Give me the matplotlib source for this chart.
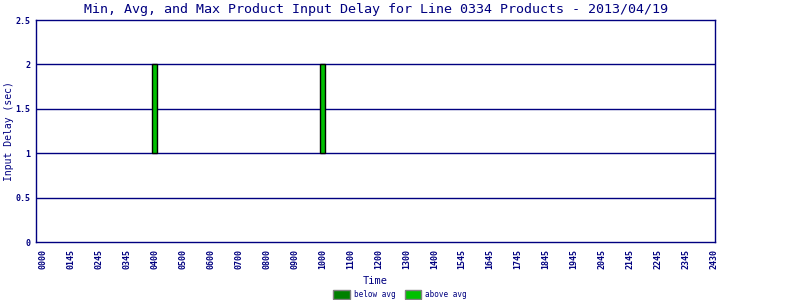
import matplotlib
matplotlib.use("Agg")
import matplotlib.pyplot as plt
from matplotlib.patches import Patch

times = ["0000", "0145", "0245", "0345", "0400", "0500", "0600", "0700", "0800",
         "0900", "1000", "1100", "1200", "1300", "1400", "1545", "1645", "1745",
         "1845", "1945", "2045", "2145", "2245", "2345", "2430"]
min_delay = [0, 0, 0, 0, 1, 0, 0, 0, 0, 0, 1, 0, 0, 0, 0, 0, 0, 0, 0, 0, 0, 0, 0, 0, 0]
avg_delay = [0, 0, 0, 0, 1, 0, 0, 0, 0, 0, 1, 0, 0, 0, 0, 0, 0, 0, 0, 0, 0, 0, 0, 0, 0]
max_delay = [0, 0, 0, 0, 2, 0, 0, 0, 0, 0, 2, 0, 0, 0, 0, 0, 0, 0, 0, 0, 0, 0, 0, 0, 0]
yticks = [0, 0.5, 1, 1.5, 2, 2.5]

NAVY = "#000080"
DARK = "#008000"
LIGHT = "#00C000"
FONT = "DejaVu Sans Mono"

fig = plt.figure(figsize=(8, 3), dpi=100)
ax = fig.add_axes([0.045, 0.193, 0.849, 0.74])

x = list(range(len(times)))
below = [a - m for a, m in zip(avg_delay, min_delay)]
above = [mx - a for mx, a in zip(max_delay, avg_delay)]
for xi, mn, av, b, a in zip(x, min_delay, avg_delay, below, above):
    if b > 0:
        ax.bar(xi, b, bottom=mn, width=0.18, color=DARK, edgecolor="black", linewidth=1, zorder=3)
    if a > 0:
        ax.bar(xi, a, bottom=av, width=0.18, color=LIGHT, edgecolor="black", linewidth=1, zorder=3)

for yv in yticks[1:-1]:
    ax.axhline(yv, color=NAVY, linewidth=1, zorder=1)

ax.set_xlim(-0.25, 24.05)
ax.set_ylim(0, 2.5)
ax.set_yticks(yticks)
ax.set_yticklabels(["0", "0.5", "1", "1.5", "2", "2.5"], fontsize=6, family=FONT, color=NAVY, fontweight="bold")
ax.set_xticks(x)
ax.set_xticklabels(times, rotation=90, fontsize=6, family=FONT, color=NAVY, fontweight="bold")
ax.tick_params(axis="x", length=0, pad=5)
ax.tick_params(axis="y", length=0, pad=4)
for s in ax.spines.values():
    s.set_color(NAVY)
    s.set_linewidth(1)

ax.set_title("Min, Avg, and Max Product Input Delay for Line 0334 Products - 2013/04/19",
             fontsize=9.6, family=FONT, color=NAVY, pad=5)
ax.set_ylabel("Input Delay (sec)", fontsize=7, family=FONT, color=NAVY)
ax.yaxis.set_label_coords(-0.032, 0.5)
ax.set_xlabel("Time", fontsize=7.5, family=FONT, color=NAVY, labelpad=5)

handles = [Patch(facecolor=DARK, edgecolor="gray", label="below avg"),
           Patch(facecolor=LIGHT, edgecolor="gray", label="above avg")]
fig.legend(handles=handles, loc="center", bbox_to_anchor=(0.5, 0.018), ncol=2,
           frameon=False, prop={"family": FONT, "size": 5.5}, labelcolor=NAVY,
           handlelength=2.2, handleheight=1.4, handletextpad=0.5, columnspacing=1.2,
           borderpad=0.1)

fig.savefig("out.png", dpi=100)
